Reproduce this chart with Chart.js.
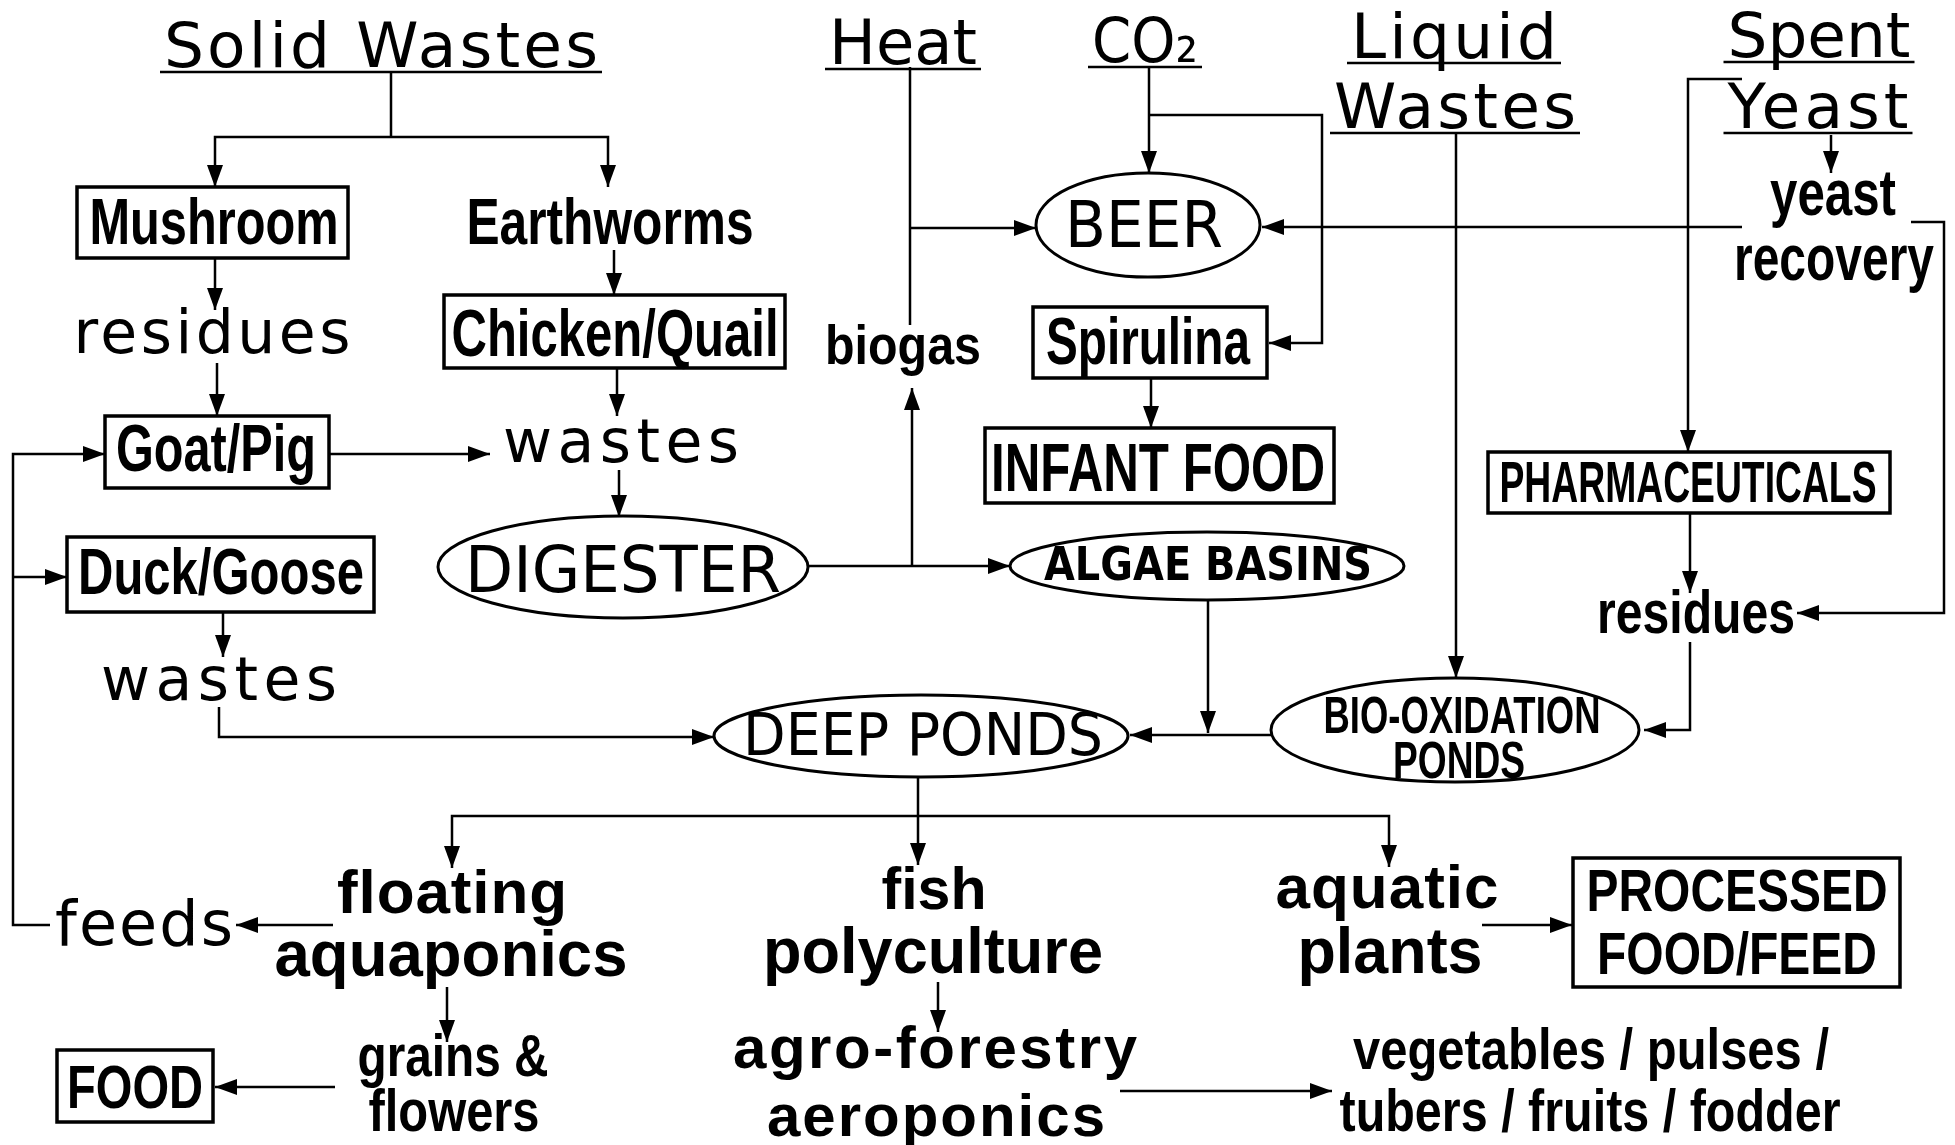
<!DOCTYPE html>
<html>
<head>
<meta charset="utf-8">
<title>Integrated brewery waste flow</title>
<script src="https://cdn.jsdelivr.net/npm/chart.js@4.4.1/dist/chart.umd.min.js"></script>
<style>
  html, body { margin: 0; padding: 0; background: #fff; }
  #wrap { width: 1955px; height: 1145px; }
</style>
</head>
<body>
<div id="wrap"><canvas id="flow"></canvas></div>
<script>
// diagram units: x to the right, y downwards, 1955 x 1145
const labels = [
  "Solid Wastes", "Heat", "CO₂", "Liquid", "Wastes", "Spent", "Yeast",
  "residues", "wastes", "wastes", "feeds", "BEER", "DIGESTER", "DEEP PONDS",
  "Mushroom", "Earthworms", "Chicken/Quail", "Goat/Pig", "Duck/Goose", "biogas",
  "Spirulina", "INFANT FOOD", "PHARMACEUTICALS", "residues", "yeast", "recovery",
  "BIO-OXIDATION", "PONDS", "grains &", "flowers", "FOOD", "PROCESSED", "FOOD/FEED",
  "vegetables / pulses /", "tubers / fruits / fodder",
  "floating", "aquaponics", "fish", "polyculture", "agro-forestry", "aeroponics",
  "aquatic", "plants", "ALGAE BASINS"
];
const labelX = [381, 903, 1145, 1454, 1455, 1819, 1818,
  212, 621, 219, 144, 1144, 623, 923,
  214, 610, 615, 216, 221, 903,
  1148, 1158, 1688, 1696, 1833, 1834,
  1462, 1459, 453, 454, 135, 1737, 1737,
  1591, 1590,
  452, 451, 934, 933, 935, 936,
  1387, 1390, 1208];
const labelY = [67, 64, 62, 58, 128, 57, 128,
  353, 462, 700, 945, 247, 592, 755,
  244, 244, 356, 471, 594, 364,
  364, 491, 502, 633, 215, 280,
  733, 778, 1076, 1131, 1108, 911, 974,
  1069, 1131,
  913, 976, 909, 973, 1068, 1136,
  908, 973, 580];
const labelW = [434, 148, 106, 206, 242, 183, 181,
  277, 236, 236, 178, 158, 316, 360,
  249, 287, 327, 200, 286, 156,
  204, 334, 377, 198, 126, 200,
  277, 132, 191, 171, 136, 301, 280,
  476, 501,
  230, 353, 105, 340, 404, 338,
  223, 185, 328];
const labelSize = [63, 63, 63, 63, 63, 63, 63,
  60, 60, 60, 62, 64, 64, 58,
  64, 64, 66, 66, 64, 56,
  66, 68, 57, 62, 64, 64,
  52, 52, 60, 60, 62, 60, 60,
  58, 60,
  62, 64, 60, 64, 60, 60,
  62, 64, 46];
const labelKind = ["head", "head", "head", "head", "head", "head", "head",
  "thin", "thin", "thin", "thin", "thin", "thin", "thin",
  "bold", "bold", "bold", "bold", "bold", "bold",
  "bold", "bold", "bold", "bold", "bold", "bold",
  "bold", "bold", "bold", "bold", "bold", "bold", "bold",
  "bold", "bold",
  "bold", "bold", "bold", "bold", "bold", "bold",
  "bold", "bold", "algae"];

// rectangular frames [x0, y0, x1, y1]
const boxes = [
  [77, 187, 348, 258],     // Mushroom
  [444, 295, 785, 368],    // Chicken/Quail
  [105, 416, 329, 488],    // Goat/Pig
  [67, 537, 374, 612],     // Duck/Goose
  [1033, 307, 1267, 378],  // Spirulina
  [985, 428, 1334, 503],   // INFANT FOOD
  [1488, 452, 1890, 513],  // PHARMACEUTICALS
  [57, 1050, 213, 1122],   // FOOD
  [1573, 858, 1900, 987]   // PROCESSED FOOD/FEED
];
// oval frames [cx, cy, rx, ry]
const ovals = [
  [1148, 225, 112, 52],    // BEER
  [623, 567, 185, 51],     // DIGESTER
  [1207, 566, 197, 34],    // ALGAE BASINS
  [921, 736, 207, 41],     // DEEP PONDS
  [1455, 730, 184, 52]     // BIO-OXIDATION PONDS
];

// connectors ending in an arrowhead
const arrows = [
  [[391, 137], [215, 137], [215, 187]],
  [[391, 137], [608, 137], [608, 187]],
  [[215, 258], [215, 310]],
  [[217, 363], [217, 416]],
  [[614, 250], [614, 295]],
  [[617, 368], [617, 416]],
  [[329, 454], [490, 454]],
  [[619, 470], [619, 517]],
  [[50, 925], [13, 925], [13, 454], [105, 454]],
  [[13, 577], [67, 577]],
  [[223, 612], [223, 657]],
  [[219, 707], [219, 737], [714, 737]],
  [[808, 566], [1010, 566]],
  [[912, 566], [912, 388]],
  [[910, 228], [1036, 228]],
  [[1149, 66], [1149, 173]],
  [[1149, 115], [1322, 115], [1322, 343], [1269, 343]],
  [[1151, 378], [1151, 428]],
  [[1742, 227], [1262, 227]],
  [[1456, 133], [1456, 678]],
  [[1742, 79], [1688, 79], [1688, 452]],
  [[1831, 135], [1831, 173]],
  [[1911, 222], [1944, 222], [1944, 613], [1797, 613]],
  [[1690, 513], [1690, 593]],
  [[1690, 642], [1690, 730], [1644, 730]],
  [[1208, 600], [1208, 733]],
  [[1271, 735], [1130, 735]],
  [[918, 777], [918, 865]],
  [[918, 816], [452, 816], [452, 868]],
  [[918, 816], [1389, 816], [1389, 867]],
  [[333, 925], [236, 925]],
  [[447, 987], [447, 1042]],
  [[335, 1087], [215, 1087]],
  [[938, 982], [938, 1032]],
  [[1120, 1091], [1332, 1091]],
  [[1482, 925], [1572, 925]]
];
// connectors without a head
const plainLines = [
  [[391, 73], [391, 137]],
  [[910, 67], [910, 325]]
];

const fonts = {
  head: { weight: "400", family: '"DejaVu Sans", sans-serif' },
  thin: { weight: "400", family: '"DejaVu Sans", sans-serif' },
  bold: { weight: "700", family: '"Liberation Sans", Arial, sans-serif' },
  algae: { weight: "700", family: '"DejaVu Sans", sans-serif' }
};

const toPoints = pts => pts.map(([x, y]) => ({ x, y }));
const lineStyle = { showLine: true, borderColor: "#000", borderWidth: 2.5, pointRadius: 0, tension: 0, fill: false, clip: false };

const datasets = [
  ...arrows.map(pts => ({ ...lineStyle, data: toPoints(pts), arrow: true })),
  ...plainLines.map(pts => ({ ...lineStyle, data: toPoints(pts), arrow: false }))
];

function drawLabel(ctx, text, cx, base, w, size, kind) {
  const f = fonts[kind];
  ctx.font = `${f.weight} ${size}px ${f.family}`;
  ctx.textAlign = "left";
  ctx.textBaseline = "alphabetic";
  ctx.fillStyle = "#000";
  const m = ctx.measureText(text).width;
  const left = cx - w / 2;
  ctx.save();
  if (w > m && "letterSpacing" in ctx && text.length > 1) {
    ctx.letterSpacing = ((w - m) / (text.length - 1)).toFixed(2) + "px";
    ctx.fillText(text, left, base);
  } else {
    ctx.translate(left, base);
    ctx.scale(w / m, 1);
    ctx.fillText(text, 0, 0);
  }
  ctx.restore();
  if ("letterSpacing" in ctx) ctx.letterSpacing = "0px";
  if (kind === "head") {
    ctx.beginPath();
    ctx.lineWidth = 2.5;
    ctx.strokeStyle = "#000";
    ctx.moveTo(left - 4, base + 5);
    ctx.lineTo(left + w + 4, base + 5);
    ctx.stroke();
  }
}

const diagramPlugin = {
  id: "diagram",
  beforeDraw(chart) {
    const ctx = chart.ctx;
    ctx.save();
    ctx.fillStyle = "#fff";
    ctx.fillRect(0, 0, chart.width, chart.height);
    ctx.restore();
  },
  afterDatasetsDraw(chart) {
    const ctx = chart.ctx;
    const xs = chart.scales.x, ys = chart.scales.y;
    const px = v => xs.getPixelForValue(v);
    const py = v => ys.getPixelForValue(v);
    const kx = Math.abs(px(1) - px(0));
    const ky = Math.abs(py(1) - py(0));
    ctx.save();

    // arrowheads at the end of each arrow connector
    chart.data.datasets.forEach((ds, i) => {
      if (!ds.arrow) return;
      const pts = chart.getDatasetMeta(i).data;
      const a = pts[pts.length - 2], b = pts[pts.length - 1];
      const ang = Math.atan2(b.y - a.y, b.x - a.x);
      const len = 22 * kx, half = 8 * kx;
      ctx.beginPath();
      ctx.moveTo(b.x, b.y);
      ctx.lineTo(b.x - len * Math.cos(ang) + half * Math.sin(ang), b.y - len * Math.sin(ang) - half * Math.cos(ang));
      ctx.lineTo(b.x - len * Math.cos(ang) - half * Math.sin(ang), b.y - len * Math.sin(ang) + half * Math.cos(ang));
      ctx.closePath();
      ctx.fillStyle = "#000";
      ctx.fill();
    });

    // frames
    ctx.strokeStyle = "#000";
    ctx.lineWidth = 3.5;
    boxes.forEach(([x0, y0, x1, y1]) => {
      ctx.strokeRect(px(x0), py(y0), px(x1) - px(x0), py(y1) - py(y0));
    });
    ctx.lineWidth = 3;
    ovals.forEach(([cx, cy, rx, ry]) => {
      ctx.beginPath();
      ctx.ellipse(px(cx), py(cy), rx * kx, ry * ky, 0, 0, Math.PI * 2);
      ctx.stroke();
    });

    // text
    labels.forEach((t, i) => {
      drawLabel(ctx, t, px(labelX[i]), py(labelY[i]), labelW[i] * kx, labelSize[i] * ky, labelKind[i]);
    });
    ctx.restore();
  }
};

new Chart(document.getElementById("flow"), {
  type: "scatter",
  data: { datasets },
  options: {
    responsive: true,
    maintainAspectRatio: false,
    animation: false,
    events: [],
    layout: { padding: 0 },
    plugins: {
      legend: { display: false },
      tooltip: { enabled: false }
    },
    scales: {
      x: { type: "linear", min: 0, max: 1955, display: false },
      y: { type: "linear", min: 0, max: 1145, reverse: true, display: false }
    }
  },
  plugins: [diagramPlugin]
});
</script>
</body>
</html>
